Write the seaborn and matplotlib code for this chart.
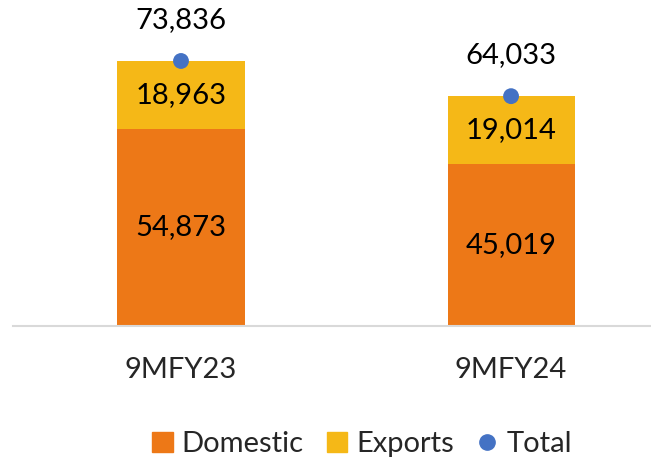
import matplotlib
matplotlib.use("Agg")
import matplotlib.pyplot as plt
import seaborn as sns
import pandas as pd
from matplotlib.lines import Line2D
from matplotlib.patches import Patch

periods = ["9MFY23", "9MFY24"]
domestic = [54873, 45019]
exports = [18963, 19014]
total = [73836, 64033]

c_dom = "#ED7817"
c_exp = "#F5B817"
c_tot = "#4472C4"

sns.set_theme(style="white")
plt.rcParams["font.family"] = ["Lato", "DejaVu Sans"]

df = pd.DataFrame({"period": periods, "domestic": domestic,
                   "exports": exports, "total": total})

fig = plt.figure(figsize=(6.51, 4.59), dpi=100)
ax = fig.add_axes([13 / 651, (459 - 326) / 459, 1 - 13 / 651, 326 / 459])

# stacked bars: draw the total in yellow, domestic in orange on top
sns.barplot(data=df, x="period", y="total", color=c_exp, width=0.385,
            saturation=1, linewidth=0, ax=ax)
sns.barplot(data=df, x="period", y="domestic", color=c_dom, width=0.385,
            saturation=1, linewidth=0, ax=ax)
sns.scatterplot(data=df, x="period", y="total", color=c_tot, s=130,
                edgecolor="none", zorder=5, ax=ax)

ax.set_xlim(-0.509, 1.424)
ax.set_ylim(0, 326 * 278.6)

for i in range(len(periods)):
    ax.text(i, domestic[i] / 2, f"{domestic[i]:,}", ha="center", va="center",
            fontsize=21, color="black")
    ax.text(i, domestic[i] + exports[i] / 2, f"{exports[i]:,}", ha="center",
            va="center", fontsize=21, color="black")
    ax.text(i, total[i] + 41 * 278.6, f"{total[i]:,}", ha="center",
            va="center", fontsize=21, color="black")

for s in ["top", "right", "left"]:
    ax.spines[s].set_visible(False)
ax.spines["bottom"].set_color("#D9D9D9")
ax.spines["bottom"].set_linewidth(1.5)
ax.set_yticks([])
ax.set_xlabel("")
ax.set_ylabel("")
ax.tick_params(axis="x", length=0, pad=22, labelsize=21)

handles = [Patch(color=c_dom, label="Domestic"),
           Patch(color=c_exp, label="Exports"),
           Line2D([], [], marker="o", linestyle="none", color=c_tot,
                  markersize=11, label="Total")]
fig.legend(handles=handles, loc="center", bbox_to_anchor=(362 / 651, 1 - 444 / 459),
           ncol=3, frameon=False, fontsize=21, handlelength=0.7,
           handleheight=0.7, handletextpad=0.3, columnspacing=0.8)

fig.savefig("out.png", dpi=100)
